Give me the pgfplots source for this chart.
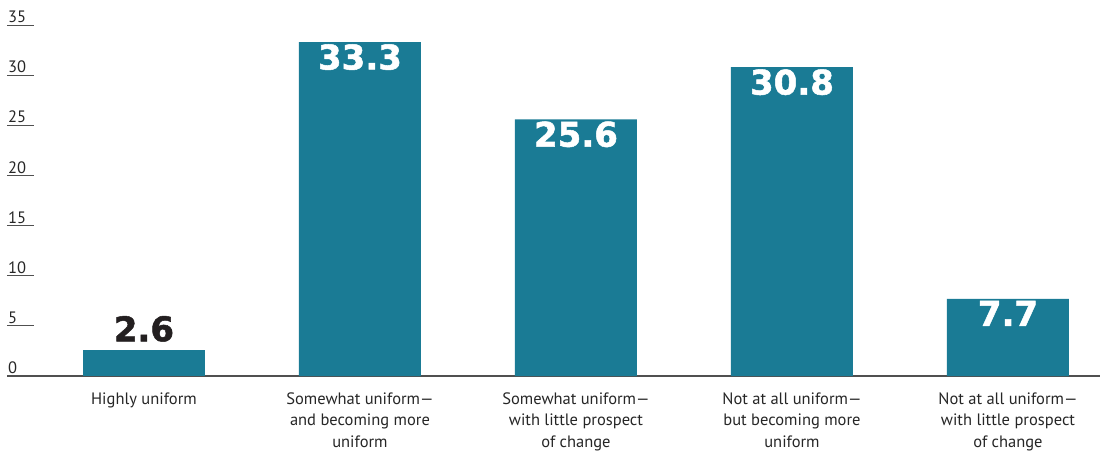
\documentclass[border=0pt]{standalone}
\usepackage{pgfplots}
\pgfplotsset{compat=1.18}
\usepackage{fontspec}
\setmainfont{PT Sans}
\newfontfamily\valfont[BoldFeatures={FakeBold=1.5}]{DejaVu Sans}
\definecolor{barteal}{RGB}{26,123,149}
\definecolor{axisgray}{RGB}{80,80,80}
\definecolor{valdark}{RGB}{35,31,32}
\begin{document}
\begin{tikzpicture}
\begin{axis}[
  name=ax,
  scale only axis,
  width=1093bp, height=351bp,
  xmin=-0.634, xmax=4.426,
  ymin=0, ymax=35,
  axis x line*=bottom, axis y line*=left,
  x axis line style={draw=axisgray, line width=1.5bp, -},
  y axis line style={draw=none},
  xtick={0,1,2,3,4},
  xticklabels={{Highly uniform},{Somewhat uniform---\\and becoming more\\uniform},{Somewhat uniform---\\with little prospect\\of change},{Not at all uniform---\\but becoming more\\uniform},{Not at all uniform---\\with little prospect\\of change}},
  xticklabel style={align=center, font=\fontsize{16.5bp}{21.5bp}\selectfont, text=black!85, yshift=14bp},
  x tick style={draw=none},
  ytick={0,5,...,35},
  tick align=inside,
  y tick style={draw=axisgray, line width=0.9bp},
  major tick length=27bp,
  yticklabel style={anchor=south west, font=\fontsize{16.5bp}{18bp}\selectfont, text=black!85, xshift=0bp, yshift=1bp, inner sep=1bp},
  /pgf/number format/assume math mode=true,
  ybar, bar width=122bp,
  clip=false,
]
\addplot[fill=barteal, draw=none, bar shift=0pt,
  nodes near coords={\pgfmathprintnumber[fixed,precision=1,fixed zerofill]{\pgfplotspointmeta}},
  every node near coord/.append style={anchor=north, yshift=-1bp, text=white, font=\valfont\bfseries\fontsize{34bp}{34bp}\selectfont, inner sep=1bp}]
  coordinates {(1,33.3) (2,25.6) (3,30.8) (4,7.7)};
\addplot[fill=barteal, draw=none, bar shift=0pt,
  nodes near coords={\pgfmathprintnumber[fixed,precision=1,fixed zerofill]{\pgfplotspointmeta}},
  every node near coord/.append style={anchor=south, yshift=7bp, text=valdark, font=\valfont\bfseries\fontsize{34bp}{34bp}\selectfont, inner sep=1bp}]
  coordinates {(0,2.6)};
\end{axis}
\path ([xshift=-7bp,yshift=-73bp]ax.south west) rectangle ([xshift=3bp,yshift=25bp]ax.north east);
\end{tikzpicture}
\end{document}
